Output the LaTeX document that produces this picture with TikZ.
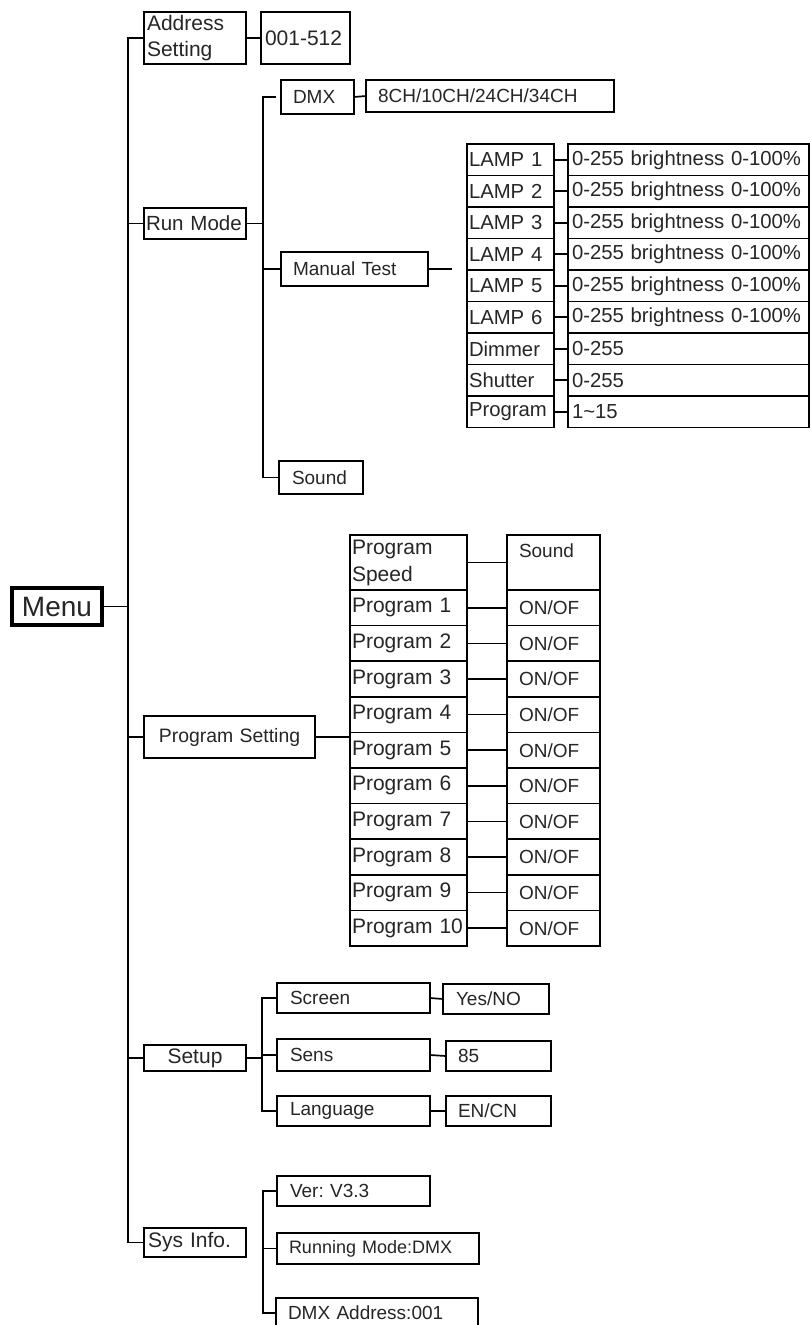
\documentclass[tikz,border=0pt]{standalone}
\usepackage{fontspec}
\setmainfont{Liberation Sans}
\frenchspacing
\newcommand\mybox[9][]{%
  \pgfmathsetmacro\mytw{(#5)-(#3)-2*(#7)}%
  \pgfmathsetmacro\myw{(#5)-(#3)}%
  \pgfmathsetmacro\myh{(#6)-(#4)}%
  \pgfmathsetmacro\myx{#3}%
  \pgfmathsetmacro\myy{#4}%
  \node[bx, minimum width=\myw pt, minimum height=\myh pt, inner xsep=#7pt, text width=\mytw pt, font=\fontsize{#8}{24}\selectfont, #1] (#2) at (\myx,\myy) {#9};%
}
\begin{document}
\begin{tikzpicture}[x=1pt,y=-1pt,
  bx/.style={draw, line width=1.7pt, anchor=north west, inner ysep=0pt, outer sep=0pt, align=left, text=black!85},
  conn/.style={draw, line width=1.7pt}]
\fill[white] (0,0) rectangle (811,1325);
\useasboundingbox (0,0) rectangle (811,1325);

\coordinate (mainv) at (128,0);
\coordinate (rmv) at (263,0);
\coordinate (sv) at (262,0);
\coordinate (siv) at (263,0);
\coordinate (mtend) at (452,0);

% Menu and first level
\mybox[line width=3.5pt, align=center]{menu}{12}{588}{102}{625}{2}{28}{Menu}
\mybox[font=\fontsize{21}{26}\selectfont]{addr}{144}{12}{246}{64}{3}{21}{Address\\Setting}
\mybox{v512}{261}{12}{350}{64}{4}{21}{001-512}
\mybox{rm}{144}{208}{246}{239}{2}{20.5}{Run Mode}
\mybox[align=center]{progset}{144}{716}{315}{758}{4}{19.4}{Program Setting}
\mybox[align=center]{setup}{144}{1045}{246}{1071}{4}{21}{Setup}
\mybox{sys}{144}{1228}{246}{1257}{4}{21}{Sys Info.}

% Run mode
\mybox{dmx}{281}{80}{354}{114}{12}{19}{DMX}
\mybox{ch}{366}{80}{614}{112}{12}{19}{8CH/10CH/24CH/34CH}
\mybox{mt}{281}{252}{428}{286}{12}{19}{Manual Test}
\mybox{snd}{279}{461}{363}{494}{13}{19}{Sound}

% Lamp table
\foreach \lab/\val [count=\i from 0] in {LAMP 1/{0-255 brightness 0-100\%},LAMP 2/{0-255 brightness 0-100\%},LAMP 3/{0-255 brightness 0-100\%},LAMP 4/{0-255 brightness 0-100\%},LAMP 5/{0-255 brightness 0-100\%},LAMP 6/{0-255 brightness 0-100\%},Dimmer/0-255,Shutter/0-255,Program/1\textasciitilde 15}{
  \mybox{lamp\i}{467}{144+31.5*\i}{554}{175.5+31.5*\i}{2}{20.3}{\lab}
  \mybox{val\i}{568}{144+31.5*\i}{809}{175.5+31.5*\i}{4}{20.3}{\val}
  \draw[conn] (lamp\i.east) -- (val\i.west);
}

% Program table
\mybox[font=\fontsize{21}{27}\selectfont]{pspeed}{350}{535}{467}{590}{2}{21}{Program\\Speed}
\mybox{osound}{507}{535}{600}{590}{12}{19}{Sound\\\mbox{}}
\draw[conn] (pspeed.east) -- (osound.west);
\foreach \i in {1,...,10}{
  \mybox{p\i}{350}{554.4+35.6*\i}{467}{590+35.6*\i}{2}{21}{Program \i}
  \mybox{o\i}{507}{554.4+35.6*\i}{600}{590+35.6*\i}{12}{19}{ON/OF}
  \draw[conn] (p\i.east) -- (o\i.west);
}

% Setup
\mybox{scr}{277}{983}{430}{1013}{13}{19}{Screen}
\mybox{yes}{443}{984}{549}{1014}{13}{19}{Yes/NO}
\mybox{sens}{277}{1039}{430}{1071}{13}{19}{Sens}
\mybox{v85}{446}{1041}{551}{1071}{12}{19}{85}
\mybox{lang}{277}{1096}{430}{1126}{13}{19}{Language}
\mybox{en}{446}{1096}{551}{1126}{12}{19}{EN/CN}

% Sys info
\mybox{ver}{277}{1176}{430}{1206}{13}{19}{Ver: V3.3}
\mybox{run}{277}{1233}{479}{1264}{12}{18}{Running Mode:DMX}
\mybox{dmxa}{276}{1298}{478}{1328}{12}{19}{DMX Address:001}

% Connectors
\draw[conn] (menu.east) -- (menu.east -| mainv);
\draw[conn] (addr.west) -- (addr.west -| mainv) -- (sys.west -| mainv) -- (sys.west);
\draw[conn] (rm.west) -- (rm.west -| mainv);
\draw[conn] (progset.west) -- (progset.west -| mainv);
\draw[conn] (setup.west) -- (setup.west -| mainv);
\draw[conn] (addr.east) -- (v512.west);

\draw[conn] (rm.east) -- (rm.east -| rmv);
\draw[conn] ([xshift=-5pt]dmx.west) -- (dmx.west -| rmv) -- (snd.west -| rmv) -- (snd.west);
\draw[conn] (mt.west) -- (mt.west -| rmv);
\draw[conn] (dmx.east) -- (ch.west);
\draw[conn] (mt.east) -- (mt.east -| mtend);

\draw[conn] (progset.east) -- (progset.east -| pspeed.west);

\draw[conn] (setup.east) -- (setup.east -| sv);
\draw[conn] (scr.west) -- (scr.west -| sv) -- (lang.west -| sv) -- (lang.west);
\draw[conn] (sens.west) -- (sens.west -| sv);
\draw[conn] (scr.east) -- (yes.west);
\draw[conn] (sens.east) -- (v85.west);
\draw[conn] (lang.east) -- (en.west);

\draw[conn] (ver.west) -- (ver.west -| siv) -- (dmxa.west -| siv) -- (dmxa.west);
\draw[conn] (run.west) -- (run.west -| siv);
\end{tikzpicture}
\end{document}
